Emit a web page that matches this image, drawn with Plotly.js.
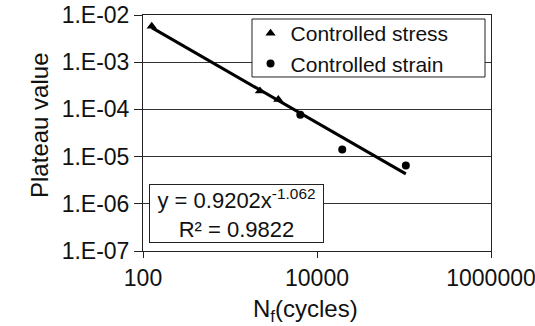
<!DOCTYPE html>
<html>
<head>
<meta charset="utf-8">
<script src="https://cdn.plot.ly/plotly-3.0.1.min.js"></script>
<style>html,body{margin:0;padding:0;background:#fff;}#chart{width:535px;height:326px;}</style>
</head>
<body>
<div id="chart"></div>
<script>
// Data
var stressCycles = [126, 2210, 3590];
var stressPlateau = [5.8e-3, 2.45e-4, 1.63e-4];
var strainCycles = [6430, 19500, 105000];
var strainPlateau = [7.7e-5, 1.41e-5, 6.5e-6];
var trendCycles = [126, 105000];
var trendPlateau = [5.4e-3, 4.3e-6];
var xTickVals = [100, 10000, 1000000];
var xTickText = ['100', '10000', '1000000'];
var yTickVals = [1e-7, 1e-6, 1e-5, 1e-4, 1e-3, 1e-2];
var yTickText = ['1.E-07', '1.E-06', '1.E-05', '1.E-04', '1.E-03', '1.E-02'];
var seriesNames = ['Controlled stress', 'Controlled strain'];
var equationText = 'y = 0.9202x<sup>-1.062</sup><br>R² = 0.9822';
var xTitle = 'N<sub>f</sub>(cycles)';
var yTitle = 'Plateau value';

var FONT = 'Liberation Sans, Arial, sans-serif';
var INK = '#111';
var traces = [
  {x: trendCycles, y: trendPlateau, mode: 'lines', line: {color: '#000', width: 3}, showlegend: false, hoverinfo: 'skip'},
  {x: stressCycles, y: stressPlateau, mode: 'markers', name: seriesNames[0], cliponaxis: false,
   marker: {symbol: 'triangle-up', size: 9, color: '#000'}},
  {x: strainCycles, y: strainPlateau, mode: 'markers', name: seriesNames[1], cliponaxis: false,
   marker: {symbol: 'circle', size: 8, color: '#000'}}
];
var layout = {
  width: 535, height: 326,
  margin: {l: 143, r: 44, t: 15, b: 75},
  paper_bgcolor: '#fff', plot_bgcolor: '#fff',
  font: {family: FONT, color: INK, size: 21},
  showlegend: true,
  xaxis: {
    type: 'log', range: [2, 6], tickvals: xTickVals, ticktext: xTickText,
    showgrid: false, zeroline: false, showline: true, linecolor: '#222', linewidth: 1, mirror: true,
    ticks: 'outside', ticklen: 6, tickcolor: '#222', tickfont: {size: 23, family: FONT},
    ticklabelstandoff: 0, ticklabeloverflow: 'allow'
  },
  yaxis: {
    type: 'log', range: [-7, -2], tickvals: yTickVals, ticktext: yTickText,
    showgrid: true, gridcolor: '#333', gridwidth: 1, zeroline: false,
    showline: true, linecolor: '#222', linewidth: 1, mirror: true,
    ticks: 'outside', ticklen: 8, tickcolor: '#222', tickfont: {size: 23, family: FONT},
    ticklabeloverflow: 'allow'
  },
  legend: {
    x: 0.309, xanchor: 'left', y: 1.008, yanchor: 'top',
    borderwidth: 0, bgcolor: 'rgba(0,0,0,0)',
    font: {size: 21, family: FONT}, itemwidth: 30, tracegroupgap: 0
  },
  shapes: [{
    type: 'rect', xref: 'paper', yref: 'paper', x0: 0.3132, x1: 0.9828, y0: 0.7373, y1: 0.983,
    line: {color: '#222', width: 1}, fillcolor: '#fff', layer: 'above'
  }],
  annotations: [{
    xref: 'paper', yref: 'paper', x: 0.269, y: 0.159, xanchor: 'center', yanchor: 'middle',
    text: equationText, showarrow: false, align: 'center', width: 173, height: 57,
    font: {size: 22, family: FONT}, bordercolor: '#222', borderwidth: 1, borderpad: 0, bgcolor: '#fff'
  }, {
    xref: 'paper', yref: 'paper', x: 0.467, y: -0.252, xanchor: 'center', yanchor: 'middle',
    text: xTitle, showarrow: false, font: {size: 24, family: FONT}
  }, {
    xref: 'paper', yref: 'paper', x: -0.296, y: 0.534, xanchor: 'center', yanchor: 'middle',
    text: yTitle, showarrow: false, textangle: -90, font: {size: 24, family: FONT}
  }]
};
Plotly.newPlot('chart', traces, layout, {displayModeBar: false, staticPlot: true});
</script>
</body>
</html>
